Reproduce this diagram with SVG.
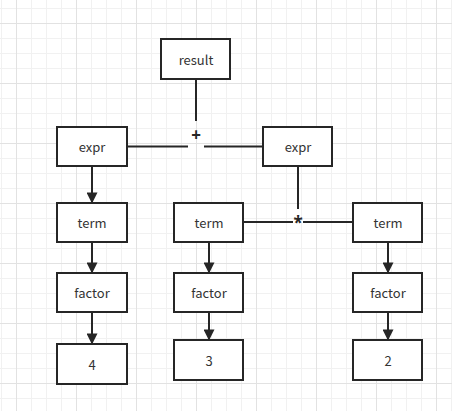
<svg xmlns="http://www.w3.org/2000/svg" width="452" height="411" viewBox="0 0 452 411">
<defs>
<pattern id="minor" width="15" height="15" patternUnits="userSpaceOnUse" x="1" y="8">
<path d="M0 0.5H15M0.5 0V15" fill="none" stroke="#f1f1f1" stroke-width="1"/>
</pattern>
<pattern id="major" width="60" height="60" patternUnits="userSpaceOnUse" x="16" y="23">
<path d="M0 0.5H60M0.5 0V60" fill="none" stroke="#e2e2e2" stroke-width="1"/>
</pattern>
<marker id="arr" markerWidth="13" markerHeight="11" refX="9.5" refY="5" orient="auto" markerUnits="userSpaceOnUse" viewBox="0 0 10 10">
<path d="M0 0L10 5L0 10Z" fill="#262626"/>
</marker>
<style>
.n rect{fill:#fff;stroke:#262626;stroke-width:2}
.n text{font-family:"Noto Sans CJK SC","Noto Sans",sans-serif;font-size:13px;fill:#333;text-anchor:middle;dominant-baseline:central}
.c line{stroke:#262626;stroke-width:2}
.c .a{marker-end:url(#arr)}
.op{font-family:"Noto Sans","DejaVu Sans",sans-serif;font-size:17px;font-weight:bold;fill:#262626;text-anchor:middle;dominant-baseline:central}
</style>
</defs>
<rect width="452" height="411" fill="#fff"/>
<rect width="452" height="411" fill="url(#minor)"/>
<rect width="452" height="411" fill="url(#major)"/>
<g class="c" id="connectors">
<line x1="196" y1="79" x2="196" y2="121"/>
<line x1="127" y1="146.5" x2="188" y2="146.5"/>
<line x1="204" y1="146.5" x2="263" y2="146.5"/>
<line x1="298" y1="166" x2="298" y2="209"/>
<line x1="243" y1="222" x2="293" y2="222"/>
<line x1="303" y1="222" x2="353" y2="222"/>
<line class="a" x1="92" y1="166" x2="92" y2="203"/>
<line class="a" x1="92" y1="242" x2="92" y2="273"/>
<line class="a" x1="92" y1="312" x2="92" y2="344"/>
<line class="a" x1="209" y1="242" x2="209" y2="273"/>
<line class="a" x1="209" y1="312" x2="209" y2="340"/>
<line class="a" x1="388" y1="242" x2="388" y2="273"/>
<line class="a" x1="388" y1="312" x2="388" y2="340"/>
<text class="op" x="196" y="134">+</text>
<text class="op" x="298" y="222">*</text>
</g>
<g class="n" id="result"><rect x="161" y="39" width="69" height="40"/><text x="196" y="59">result</text></g>
<g class="n" id="expr1"><rect x="57" y="127" width="70" height="39"/><text x="92" y="146.5">expr</text></g>
<g class="n" id="expr2"><rect x="263" y="127" width="69" height="39"/><text x="298" y="146.5">expr</text></g>
<g class="n" id="term1"><rect x="57" y="203" width="70" height="39"/><text x="92" y="222.5">term</text></g>
<g class="n" id="term2"><rect x="174" y="203" width="69" height="39"/><text x="209" y="222.5">term</text></g>
<g class="n" id="term3"><rect x="353" y="203" width="69" height="39"/><text x="388" y="222.5">term</text></g>
<g class="n" id="factor1"><rect x="57" y="273" width="70" height="39"/><text x="92" y="292.5">factor</text></g>
<g class="n" id="factor2"><rect x="174" y="273" width="69" height="39"/><text x="209" y="292.5">factor</text></g>
<g class="n" id="factor3"><rect x="353" y="273" width="69" height="39"/><text x="388" y="292.5">factor</text></g>
<g class="n" id="n4"><rect x="57" y="344" width="70" height="40"/><text x="92" y="364">4</text></g>
<g class="n" id="n3"><rect x="174" y="340" width="69" height="40"/><text x="209" y="360">3</text></g>
<g class="n" id="n2"><rect x="353" y="340" width="69" height="40"/><text x="388" y="360">2</text></g>
</svg>
